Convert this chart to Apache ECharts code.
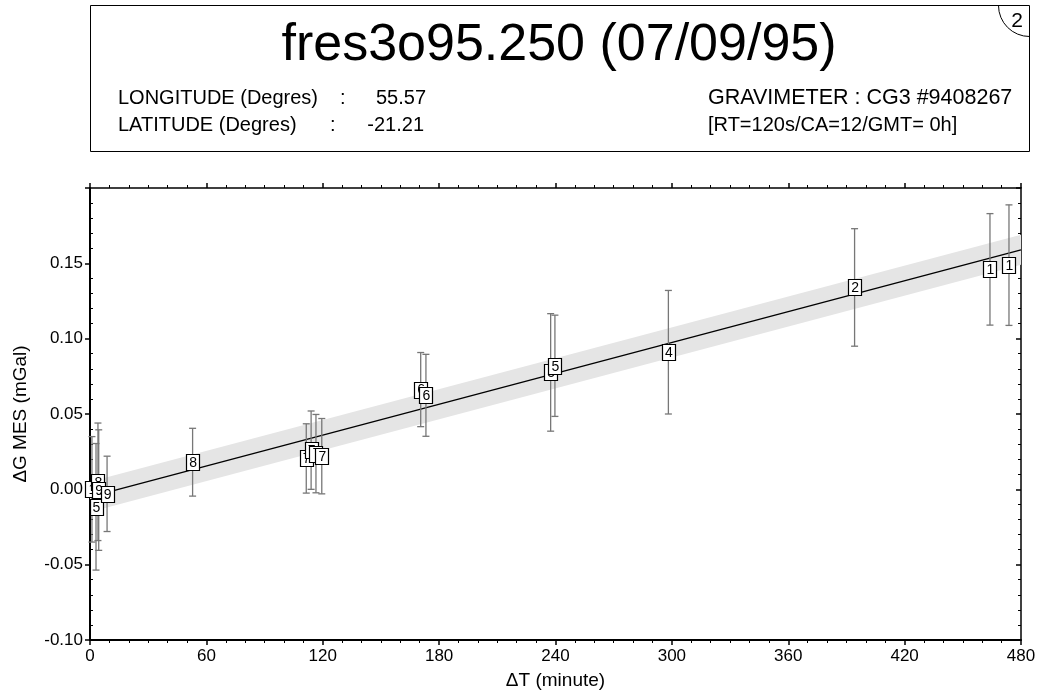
<!DOCTYPE html>
<html>
<head>
<meta charset="utf-8">
<script src="https://cdn.jsdelivr.net/npm/echarts@6/dist/echarts.min.js"></script>
<style>
html,body{margin:0;padding:0;background:#fff;}
#chart{width:1037px;height:694px;}
</style>
</head>
<body>
<div id="chart"></div>
<script>
// ---- data ----
const pointLabels = ['1','8','9','5','9','8','7','7','7','7','6','6','5','5','4','2','1','1'];
const pointTimes  = [1, 4.1, 4.5, 3.1, 8.8, 52.9, 111.5, 114, 116.5, 119.5, 170.5, 173.2, 237.5, 239.7, 298.2, 394.2, 464, 473.8];
const pointValues = [0.0, 0.005, -0.0005, -0.0116, -0.003, 0.018, 0.0205, 0.026, 0.0237, 0.022, 0.0662, 0.0624, 0.0776, 0.082, 0.091, 0.134, 0.146, 0.1488];
const pointErrors = [0.035, 0.039, 0.040, 0.042, 0.025, 0.0225, 0.023, 0.026, 0.026, 0.025, 0.0246, 0.0272, 0.039, 0.0336, 0.041, 0.039, 0.037, 0.040];
const fitTimes  = [0, 480];
const fitValues = [-0.005, 0.159];
const bandLow   = [-0.015, 0.149];
const bandHigh  = [0.005, 0.169];
const xTicks = [0, 60, 120, 180, 240, 300, 360, 420, 480];
const yTicks = [-0.10, -0.05, 0.00, 0.05, 0.10, 0.15, 0.20];

const FONT = 'Liberation Sans, Arial, sans-serif';
const chart = echarts.init(document.getElementById('chart'), null, {renderer: 'canvas'});

const errData = pointTimes.map((t, i) => [t, pointValues[i], pointErrors[i]]);
const boxData = pointTimes.map((t, i) => [t, pointValues[i], i]);

const yMin = yTicks[0], yMax = yTicks[yTicks.length - 1];
const option = {
  backgroundColor: '#fff',
  animation: false,
  grid: {left: 90, right: 16, top: 188, bottom: 54, show: false, containLabel: false, outerBoundsMode: 'none'},
  xAxis: [
    {
      type: 'value', position: 'bottom', min: xTicks[0], max: xTicks[xTicks.length - 1], interval: 60,
      name: '\u0394T (minute)', nameLocation: 'middle', nameGap: 31,
      nameTextStyle: {fontFamily: FONT, fontSize: 19, color: '#000'},
      axisLine: {show: true, onZero: false, lineStyle: {color: '#000', width: 2}},
      axisTick: {show: true, length: 5, lineStyle: {color: '#000', width: 1.5}},
      minorTick: {show: true, splitNumber: 6, length: 3, lineStyle: {color: '#000', width: 1}},
      axisLabel: {fontFamily: FONT, fontSize: 17, color: '#000', margin: 8},
      splitLine: {show: false}
    },
    {
      type: 'value', position: 'top', min: xTicks[0], max: xTicks[xTicks.length - 1], interval: 60,
      axisLine: {show: true, onZero: false, lineStyle: {color: '#000', width: 1.5}},
      axisTick: {show: true, length: 5, lineStyle: {color: '#000', width: 1.5}},
      minorTick: {show: true, splitNumber: 6, length: 3, lineStyle: {color: '#000', width: 1}},
      axisLabel: {show: false},
      splitLine: {show: false}
    }
  ],
  yAxis: [
    {
      type: 'value', position: 'left', min: yMin, max: yMax, interval: 0.05,
      name: '\u0394G MES (mGal)', nameLocation: 'middle', nameGap: 60, nameRotate: 90,
      nameTextStyle: {fontFamily: FONT, fontSize: 19, color: '#000'},
      axisLine: {show: true, onZero: false, lineStyle: {color: '#000', width: 2}},
      axisTick: {show: true, length: 5, lineStyle: {color: '#000', width: 1.5}},
      minorTick: {show: false},
      axisLabel: {fontFamily: FONT, fontSize: 17, color: '#000', margin: 7,
        formatter: v => (v > 0.19 ? '' : v.toFixed(2))},
      splitLine: {show: false}
    },
    {
      type: 'value', position: 'right', min: yMin, max: yMax, interval: 0.05,
      axisLine: {show: true, onZero: false, lineStyle: {color: '#000', width: 1.5}},
      axisTick: {show: true, inside: true, length: 5, lineStyle: {color: '#000', width: 1.5}},
      minorTick: {show: true, splitNumber: 5, length: 3, lineStyle: {color: '#000', width: 1}},
      axisLabel: {show: false},
      splitLine: {show: false}
    },
    {
      type: 'value', position: 'left', offset: 0, min: yMin, max: yMax, interval: 0.05,
      axisLine: {show: false, onZero: false},
      axisTick: {show: false, inside: true},
      minorTick: {show: true, splitNumber: 5, length: 3, lineStyle: {color: '#000', width: 1}},
      axisLabel: {show: false},
      splitLine: {show: false}
    }
  ],
  graphic: [
    {type: 'rect', shape: {x: 90.5, y: 5.5, width: 939, height: 146}, style: {fill: 'none', stroke: '#000', lineWidth: 1}},
    {type: 'arc', shape: {cx: 1029.5, cy: 5.5, r: 31, startAngle: Math.PI / 2, endAngle: Math.PI, clockwise: true},
      style: {fill: 'none', stroke: '#000', lineWidth: 1}},
    {type: 'text', x: 1017, y: 21, style: {text: '2', font: '21px ' + FONT, fill: '#000', align: 'center', verticalAlign: 'middle'}},
    {type: 'text', x: 559, y: 46, style: {text: 'fres3o95.250 (07/09/95)', font: '52px ' + FONT, fill: '#000', align: 'center', verticalAlign: 'middle'}},
    {type: 'text', x: 118, y: 98, style: {text: 'LONGITUDE (Degres)', font: '20px ' + FONT, fill: '#000', align: 'left', verticalAlign: 'middle'}},
    {type: 'text', x: 340, y: 98, style: {text: ':', font: '20px ' + FONT, fill: '#000', align: 'left', verticalAlign: 'middle'}},
    {type: 'text', x: 426, y: 98, style: {text: '55.57', font: '20px ' + FONT, fill: '#000', align: 'right', verticalAlign: 'middle'}},
    {type: 'text', x: 118, y: 125, style: {text: 'LATITUDE (Degres)', font: '20px ' + FONT, fill: '#000', align: 'left', verticalAlign: 'middle'}},
    {type: 'text', x: 330, y: 125, style: {text: ':', font: '20px ' + FONT, fill: '#000', align: 'left', verticalAlign: 'middle'}},
    {type: 'text', x: 424, y: 125, style: {text: '-21.21', font: '20px ' + FONT, fill: '#000', align: 'right', verticalAlign: 'middle'}},
    {type: 'text', x: 708, y: 98, style: {text: 'GRAVIMETER : CG3 #9408267', font: '21.5px ' + FONT, fill: '#000', align: 'left', verticalAlign: 'middle'}},
    {type: 'text', x: 708, y: 125, style: {text: '[RT=120s/CA=12/GMT= 0h]', font: '20px ' + FONT, fill: '#000', align: 'left', verticalAlign: 'middle'}}
  ],
  series: [
    {
      type: 'custom', name: 'band', z: 1, silent: true,
      data: [[0]],
      renderItem: function (params, api) {
        const pts = [];
        for (let i = 0; i < fitTimes.length; i++) pts.push(api.coord([fitTimes[i], bandHigh[i]]));
        for (let i = fitTimes.length - 1; i >= 0; i--) pts.push(api.coord([fitTimes[i], bandLow[i]]));
        return {type: 'polygon', shape: {points: pts}, style: {fill: '#e5e5e5', stroke: 'none'}};
      }
    },
    {
      type: 'line', name: 'fit', z: 2, silent: true, symbol: 'none',
      data: fitTimes.map((t, i) => [t, fitValues[i]]),
      lineStyle: {color: '#000', width: 1.3}
    },
    {
      type: 'custom', name: 'err', z: 3, silent: true,
      data: errData,
      renderItem: function (params, api) {
        const t = api.value(0), v = api.value(1), e = api.value(2);
        const top = api.coord([t, v + e]);
        const bot = api.coord([t, v - e]);
        const st = {stroke: '#777', lineWidth: 1.3};
        const c = 3.5;
        return {type: 'group', children: [
          {type: 'line', shape: {x1: top[0], y1: top[1], x2: bot[0], y2: bot[1]}, style: st},
          {type: 'line', shape: {x1: top[0] - c, y1: top[1], x2: top[0] + c, y2: top[1]}, style: st},
          {type: 'line', shape: {x1: bot[0] - c, y1: bot[1], x2: bot[0] + c, y2: bot[1]}, style: st}
        ]};
      }
    },
    {
      type: 'custom', name: 'boxes', z: 4, silent: true,
      data: boxData,
      renderItem: function (params, api) {
        const p = api.coord([api.value(0), api.value(1)]);
        const lab = pointLabels[api.value(2)];
        const w = 13, h = 16;
        return {type: 'group', children: [
          {type: 'rect', shape: {x: Math.round(p[0] - w / 2) + 0.5, y: Math.round(p[1] - h / 2) + 0.5, width: w, height: h},
            style: {fill: '#fff', stroke: '#000', lineWidth: 1.2}},
          {type: 'text', x: p[0] + 0.5, y: p[1] + 1, style: {text: lab, font: '14px ' + FONT, fill: '#000', align: 'center', verticalAlign: 'middle'}}
        ]};
      }
    }
  ]
};
chart.setOption(option);
</script>
</body>
</html>
